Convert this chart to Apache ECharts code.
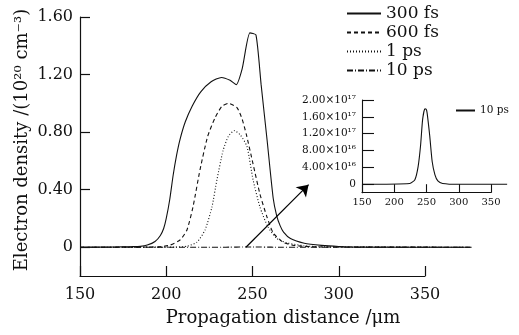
<!DOCTYPE html>
<html><head><meta charset="utf-8">
<script src="https://cdn.jsdelivr.net/npm/echarts@6/dist/echarts.min.js"></script>
<style>html,body{margin:0;padding:0;background:#fff}#c{width:519px;height:335px}</style>
</head><body><div id="c"></div>
<script>
// ---- data ----
const xTicks = [150, 200, 250, 300, 350];
const mainYTickValues = [0, 0.4, 0.8, 1.2, 1.6];
const mainYTickLabels = ['0', '0.40', '0.80', '1.20', '1.60'];
const insetYTickValues = [0, 0.4, 0.8, 1.2, 1.6, 2.0];
const insetYTickLabels = ['0', '4.00×10¹⁶', '8.00×10¹⁶', '1.20×10¹⁷', '1.60×10¹⁷', '2.00×10¹⁷'];
const seriesNames = ['300 fs', '600 fs', '1 ps', '10 ps'];

// 300 fs (10^20 cm^-3)
const fs300X = [150, 170, 180, 185, 189, 193.5, 196.5, 198.5, 200, 202, 204, 206, 208, 211, 215, 220, 226, 232, 237, 240.5, 244, 248.5, 252, 255, 258.5, 262, 264, 266, 268, 272, 280, 290, 300, 310, 377];
const fs300Y = [0, 0.002, 0.004, 0.006, 0.015, 0.04, 0.08, 0.13, 0.2, 0.33, 0.5, 0.64, 0.75, 0.87, 0.98, 1.08, 1.15, 1.18, 1.16, 1.13, 1.24, 1.49, 1.475, 1.13, 0.74, 0.34, 0.22, 0.15, 0.105, 0.06, 0.028, 0.013, 0.005, 0.001, 0];
// 600 fs
const fs600X = [150, 195, 202, 208, 212, 215.5, 219.6, 224, 228.3, 232.3, 236, 241, 244, 246.5, 250.3, 254.3, 258.4, 262, 267.7, 273.5, 280, 290, 377];
const fs600Y = [0, 0.002, 0.014, 0.05, 0.12, 0.28, 0.54, 0.77, 0.9, 0.98, 1.0, 0.97, 0.89, 0.78, 0.58, 0.37, 0.21, 0.1, 0.035, 0.014, 0.006, 0.002, 0];
// 1 ps
const ps1X = [150, 205, 212, 217.8, 222.5, 226.5, 229.4, 232.9, 236, 239.5, 243, 246.8, 250.3, 254.3, 259, 264.2, 270, 280, 290, 377];
const ps1Y = [0, 0.001, 0.007, 0.035, 0.12, 0.28, 0.47, 0.67, 0.77, 0.81, 0.78, 0.70, 0.47, 0.28, 0.14, 0.06, 0.03, 0.01, 0.003, 0];
// 10 ps (10^17 cm^-3)
const ps10X = [150, 224, 232, 237, 240.8, 244, 247.5, 249.5, 251, 255, 258.8, 263, 267.6, 275, 300, 375];
const ps10Y = [0, 0.02, 0.11, 0.42, 0.92, 1.54, 1.79, 1.78, 1.69, 1.15, 0.54, 0.23, 0.08, 0.02, 0, 0];

// arrow annotation (data coordinates of main chart)
const arrowFrom = [246.2, 0];
const arrowTo = [282.5, 0.435];

// ---- chart ----
const pair = (xs, ys, k) => xs.map((x, i) => [x, ys[i] * (k || 1)]);
const C = '#111';
const FONT = 'DejaVu Serif';

const hiddenAxis = (gi, min, max) => ({
  type: 'value', gridIndex: gi, min, max, show: false,
  splitLine: {show: false}
});

const chart = echarts.init(document.getElementById('c'), null, {renderer: 'canvas'});
chart.setOption({
  animation: false,
  backgroundColor: '#fff',
  grid: [
    {left: 80, top: 17, width: 345, height: 259, outerBoundsMode: 'none', containLabel: false},
    {left: 80, top: 17, width: 345 * 227 / 200, height: 259, outerBoundsMode: 'none', containLabel: false},
    {left: 362, top: 100, width: 129, height: 92.7, outerBoundsMode: 'none', containLabel: false},
    {left: 362, top: 100, width: 129 * 225 / 200, height: 92.7, outerBoundsMode: 'none', containLabel: false}
  ],
  xAxis: [
    {type: 'value', gridIndex: 0, min: 150, max: 350,
     axisLine: {show: true, onZero: false, lineStyle: {color: C, width: 1.2}},
     axisTick: {show: true, inside: true, length: 10, customValues: xTicks, lineStyle: {color: C, width: 1.2}},
     axisLabel: {customValues: xTicks, margin: 11, color: C, fontFamily: FONT, fontSize: 16},
     splitLine: {show: false}},
    hiddenAxis(1, 150, 377),
    {type: 'value', gridIndex: 2, min: 150, max: 350,
     axisLine: {show: true, onZero: false, lineStyle: {color: C, width: 1.1}},
     axisTick: {show: true, inside: true, length: 8.5, customValues: xTicks, lineStyle: {color: C, width: 1.1}},
     axisLabel: {customValues: xTicks, margin: 5, color: C, fontFamily: FONT, fontSize: 10},
     splitLine: {show: false}},
    hiddenAxis(3, 150, 375)
  ],
  yAxis: [
    {type: 'value', gridIndex: 0, min: -0.2, max: 1.6,
     axisLine: {show: true, onZero: false, lineStyle: {color: C, width: 1.2}},
     axisTick: {show: true, inside: true, length: 10, customValues: mainYTickValues, lineStyle: {color: C, width: 1.2}},
     axisLabel: {customValues: mainYTickValues, margin: 7, color: C, fontFamily: FONT, fontSize: 16,
       formatter: v => { const i = mainYTickValues.findIndex(t => Math.abs(t - v) < 1e-6); return i >= 0 ? mainYTickLabels[i] : ''; }},
     splitLine: {show: false}},
    hiddenAxis(1, -0.2, 1.6),
    {type: 'value', gridIndex: 2, min: -0.2, max: 2.0,
     axisLine: {show: true, onZero: false, lineStyle: {color: C, width: 1.1}},
     axisTick: {show: true, inside: true, length: 12, customValues: insetYTickValues, lineStyle: {color: C, width: 1.1}},
     axisLabel: {customValues: insetYTickValues, margin: 6, color: C, fontFamily: FONT, fontSize: 10.5,
       formatter: v => { const i = insetYTickValues.findIndex(t => Math.abs(t - v) < 1e-6); return i >= 0 ? insetYTickLabels[i] : ''; }},
     splitLine: {show: false}},
    hiddenAxis(3, -0.2, 2.0)
  ],
  legend: [
    {orient: 'vertical', left: 346, top: 5, padding: 0, itemWidth: 34, itemHeight: 14, itemGap: 2,
     data: seriesNames, selectedMode: false, itemStyle: {opacity: 0},
     textStyle: {fontFamily: FONT, fontSize: 17, color: C}},
    {orient: 'vertical', left: 455, top: 105, padding: 0, itemWidth: 19, itemHeight: 10, itemGap: 2,
     data: ['inset10'], selectedMode: false, itemStyle: {opacity: 0}, formatter: () => '10 ps',
     textStyle: {fontFamily: FONT, fontSize: 10.5, color: C}}
  ],
  graphic: [
    {type: 'text', x: 283, y: 318, style: {text: 'Propagation distance /μm', font: '18px "DejaVu Serif"', fill: C, align: 'center', verticalAlign: 'middle'}},
    {type: 'text', x: 22, y: 140, rotation: Math.PI / 2, style: {text: 'Electron density /(10²⁰ cm⁻³)', font: '18px "DejaVu Serif"', fill: C, align: 'center', verticalAlign: 'middle'}}
  ],
  series: [
    {name: seriesNames[0], type: 'line', xAxisIndex: 1, yAxisIndex: 1, symbol: 'none', smooth: 0.2,
     data: pair(fs300X, fs300Y), lineStyle: {color: C, width: 1.1, type: 'solid'}, itemStyle: {color: C},
     markLine: {silent: true, symbol: ['none', 'arrow'], symbolSize: 11, label: {show: false},
       lineStyle: {color: '#000', width: 1.2, type: 'solid'}, itemStyle: {color: '#000'},
       data: [[{coord: arrowFrom}, {coord: arrowTo}]]}},
    {name: seriesNames[1], type: 'line', xAxisIndex: 1, yAxisIndex: 1, symbol: 'none', smooth: 0.2,
     data: pair(fs600X, fs600Y), lineStyle: {color: C, width: 1.1, type: [4, 3]}, itemStyle: {color: C}},
    {name: seriesNames[2], type: 'line', xAxisIndex: 1, yAxisIndex: 1, symbol: 'none', smooth: 0.2,
     data: pair(ps1X, ps1Y), lineStyle: {color: C, width: 1.1, type: [1, 2]}, itemStyle: {color: C}},
    {name: seriesNames[3], type: 'line', xAxisIndex: 1, yAxisIndex: 1, symbol: 'none', smooth: 0.2,
     data: pair(ps10X, ps10Y, 1e17 / 1e20), lineStyle: {color: C, width: 1.1, type: [6, 2, 1, 2]}, itemStyle: {color: C}},
    {name: 'inset10', type: 'line', xAxisIndex: 3, yAxisIndex: 3, symbol: 'none', smooth: 0.2,
     data: pair(ps10X, ps10Y), lineStyle: {color: C, width: 1.1, type: 'solid'}, itemStyle: {color: C}}
  ]
});
</script>
</body></html>
